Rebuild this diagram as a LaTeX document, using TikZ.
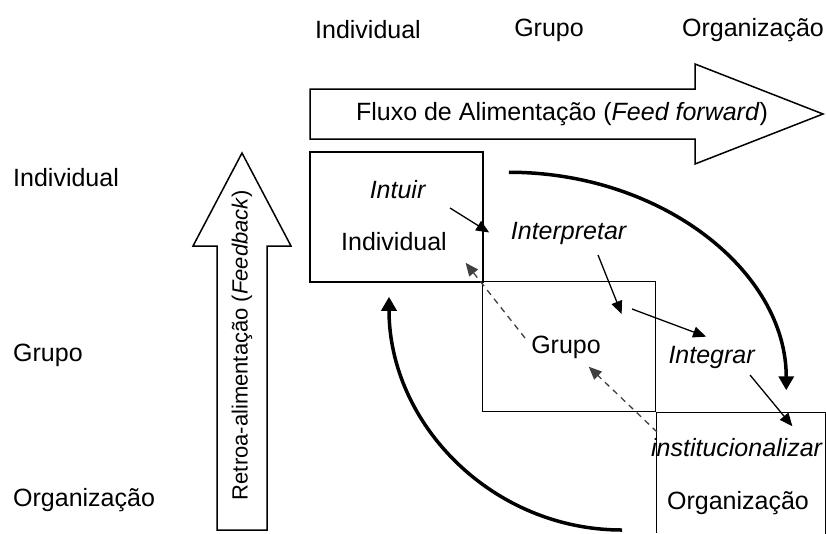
\documentclass[tikz,border=0pt]{standalone}
\usepackage{fontspec}
\setmainfont{Liberation Sans}
\usetikzlibrary{arrows.meta}

\begin{document}
\begin{tikzpicture}[x=1pt, y=-1pt, shorten >=1pt, font=\fontsize{25}{30}\selectfont,
level box/.style={draw, line width=1.5pt, minimum width=173pt, minimum height=130pt, inner sep=0pt},
big arrow/.style={draw, line width=1.5pt, line join=miter},
step arrow/.style={-{Triangle[length=13pt,width=11pt]}, line width=1.3pt},
back arrow/.style={step arrow, black!75, dash pattern=on 6pt off 5pt},
loop arrow/.style={-{Triangle[length=14pt,width=15pt]}, line width=3.5pt}]
\useasboundingbox (0,0) rectangle (826,533);
% levels
\node [level box](b1) at (396.5,217) {};
\node [level box](b2) at (569,346.5) {};
\draw [line width=1.5pt] (b2.south east) -- ++(169,0) -- ++(0,122)
      (b2.south east) -- ++(0,122);
% feed forward / feedback
\draw [big arrow] (310,89) -- (695,89) -- (695,64) -- (823,114) -- (695,164) -- (695,139) -- (310,139) -- cycle;
\draw [big arrow] (217,530) -- (217,246) -- (193,246) -- (242,153) -- (291,246) -- (267,246) -- (267,530) -- cycle;
\node (ff) at (562,114) {Fluxo de Alimentação (\textit{Feed forward})};
\node [rotate=90, font=\fontsize{22}{26}\selectfont](fb) at (242,345) {Retroa-alimentação (\textit{Feedback})};
\begin{scope}[every node/.style={inner sep=0pt}]
\node (t1) at (368,30) {Individual};
\node (t2) at (549,30) {Grupo};
\node (t3) at (753,30) {Organização};
\node [anchor=west](l1) at (13,178) {Individual};
\node [anchor=west](l2) at (13,355) {Grupo};
\node [anchor=west](l3) at (13,500) {Organização};
\node (intuir) at (398,190) {\textit{Intuir}};
\node (ind) at (394,242) {Individual};
\node (interp) at (569,233) {\textit{Interpretar}};
\node (grp) at (566,347) {Grupo};
\node (integr) at (712,357) {\textit{Integrar}};
\node (inst) at (737,448) {\textit{institucionalizar}};
\node (org) at (738,503) {Organização};
\end{scope}
\coordinate (c0) at (622,530);
\draw [step arrow] ([shift={(52,18)}]intuir.center) -- ([shift={(-79,0)}]interp.center);
\draw [step arrow] ([shift={(29,22)}]interp.center) -- ([shift={(56,-32)}]grp.center);
\draw [step arrow] ([shift={(66,-38)}]grp.center) -- ([shift={(-5,-20)}]integr.center);
\draw [step arrow] ([shift={(38,18)}]integr.center) -- ([shift={(56,-21)}]inst.center);
\draw [back arrow] ([shift={(-80,-16)}]inst.center) -- ([shift={(22,19)}]grp.center);
\draw [back arrow] ([shift={(-41,-9)}]grp.center) -- ([shift={(71,20)}]ind.center);
%\draw [back arrow] (inst) -- (ind);
\draw [loop arrow] ([shift={(25,21)}]b1.north east) .. controls +(153,0) and +(0,-120) .. ([shift={(130,-21)}]b2.south east);
\draw [loop arrow] (c0) .. controls +(-129,0) and +(0,129) .. ([shift={(-7.5,13)}]b1.south);
\end{tikzpicture}
\end{document}
